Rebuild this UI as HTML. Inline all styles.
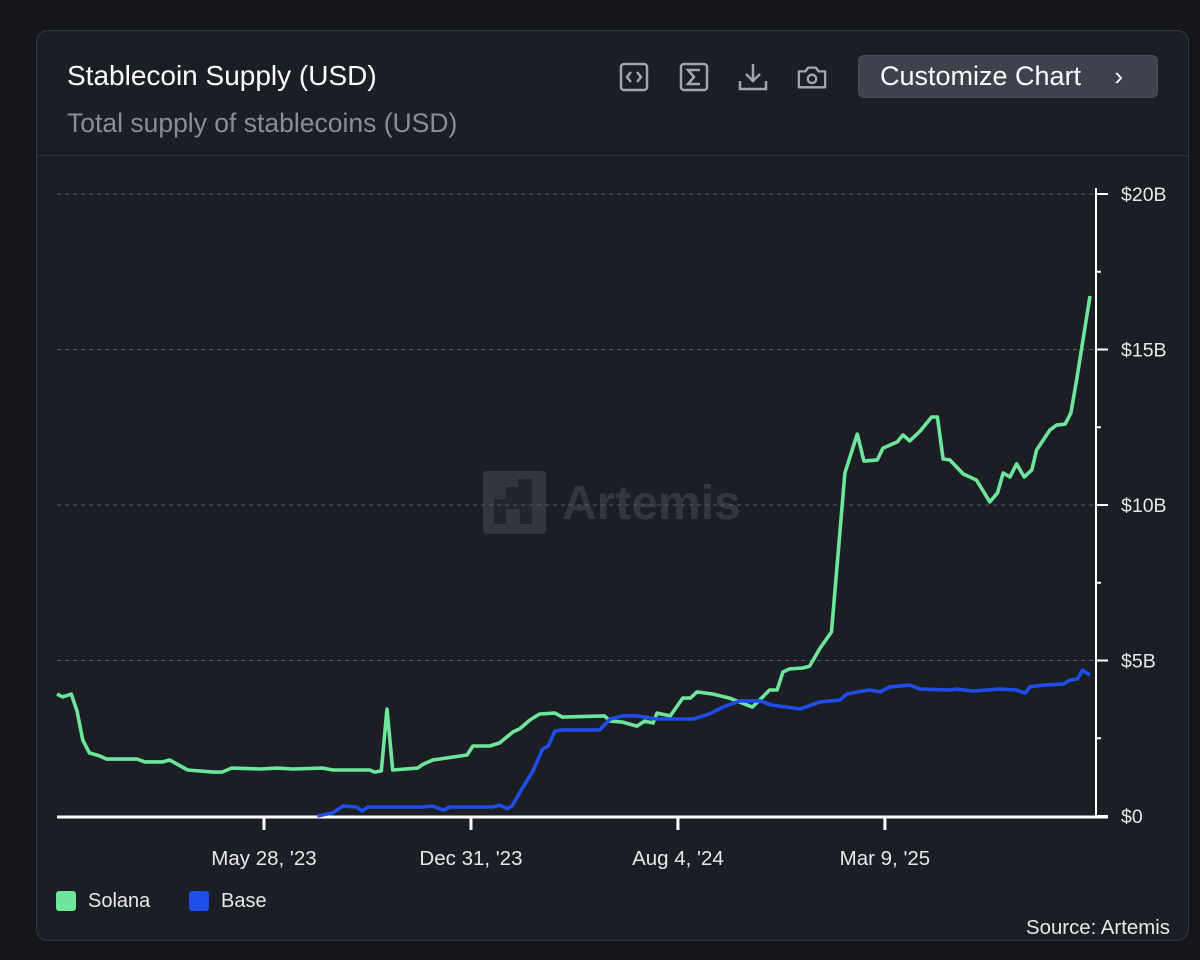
<!DOCTYPE html>
<html><head><meta charset="utf-8"><style>
body{margin:0;width:1200px;height:960px;background:#15161b;font-family:"Liberation Sans",sans-serif;overflow:hidden;position:relative}
.card{position:absolute;left:36px;top:30px;width:1153px;height:911px;background:#1c1e26;border:1px solid #34363f;border-radius:12px;box-sizing:border-box}
.t{position:absolute;color:#fff;white-space:nowrap}
.ic{position:absolute;top:62px;width:30px;height:30px}
</style></head><body>
<div class="card"></div>
<div class="t" style="left:67px;top:60px;font-size:28px">Stablecoin Supply (USD)</div>
<div class="t" style="left:67px;top:108px;font-size:26.5px;color:#8b8d96">Total supply of stablecoins (USD)</div>
<div style="position:absolute;left:37px;top:155px;width:1151px;height:1px;background:#30323b"></div>
<svg class="ic" style="left:619px" viewBox="0 0 30 30"><rect x="2" y="2" width="26" height="26" rx="3" fill="none" stroke="#a3a5ad" stroke-width="2.5"/><path d="M12 10l-4 5 4 5M18 10l4 5-4 5" fill="none" stroke="#a3a5ad" stroke-width="2.5"/></svg>
<svg class="ic" style="left:679px" viewBox="0 0 30 30"><rect x="2" y="2" width="26" height="26" rx="3" fill="none" stroke="#a3a5ad" stroke-width="2.5"/><path d="M21 8H9l6 7-6 7h12" fill="none" stroke="#a3a5ad" stroke-width="2.5"/></svg>
<svg class="ic" style="left:738px" viewBox="0 0 30 30"><path d="M15 2v17M8 12l7 7 7-7M2 19v8h26v-8" fill="none" stroke="#a3a5ad" stroke-width="2.5"/></svg>
<svg class="ic" style="left:797px" viewBox="0 0 32 30"><path d="M2 9h7l3-4h8l3 4h7v17H2z" fill="none" stroke="#a3a5ad" stroke-width="2.5" stroke-linejoin="round"/><circle cx="16" cy="17" r="4.5" fill="none" stroke="#a3a5ad" stroke-width="2.5"/></svg>
<div style="position:absolute;left:858px;top:55px;width:300px;height:43px;background:#3f414c;border:1px solid #4b4d58;border-radius:6px;box-sizing:border-box;color:#fff;font-size:27px;line-height:41px;padding-left:21px;white-space:nowrap">Customize Chart<span style="position:absolute;right:34px;font-size:26px">›</span></div>
<svg style="position:absolute;left:0;top:0" width="1200" height="960">
<g><rect x="483" y="471" width="63" height="63" rx="4" fill="#34363e"/><path d="M494 524v-25h12v-12h12v-8h14v45h-12v-15h-14v15z" fill="#23252c"/><text x="562" y="519" font-size="48" font-weight="bold" fill="#34363e">Artemis</text></g>
<g id="grid"></g><g id="axes"></g><g id="lines"></g>
</svg>
<div style="position:absolute;left:56px;top:891px;width:20px;height:20px;background:#6ee59a;border-radius:3px"></div>
<div class="t" style="left:88px;top:890px;font-size:20px;color:#e8e8ea">Solana</div>
<div style="position:absolute;left:189px;top:891px;width:20px;height:20px;background:#1f4de8;border-radius:3px"></div>
<div class="t" style="left:221px;top:890px;font-size:20px;color:#e8e8ea">Base</div>
<div class="t" style="left:1026px;top:917px;font-size:20.4px;color:#e8e8ea">Source: Artemis</div>
<script>
const xTickDays=[217,434,651,868];
const xTickLabels=["May 28, '23","Dec 31, '23","Aug 4, '24","Mar 9, '25"];
const yTickValues=[0,5,10,15,20];
const yTickLabels=["$0","$5B","$10B","$15B","$20B"];
const solanaDays=[0,6,15,21,27,34,45,52,84,92,111,118,137,164,173,183,213,231,247,279,289,328,333,340,346,352,378,384,394,430,436,454,464,478,485,496,506,522,530,574,580,593,608,616,625,629,643,656,664,671,688,705,729,740,747,755,761,768,782,789,800,812,826,839,846,860,866,881,887,894,905,917,923,929,936,950,964,978,986,992,999,1006,1014,1022,1027,1041,1048,1057,1063,1069,1083];
const solanaValues=[3.92,3.83,3.92,3.38,2.44,2.03,1.93,1.83,1.83,1.74,1.74,1.80,1.48,1.41,1.41,1.54,1.51,1.54,1.51,1.54,1.48,1.48,1.41,1.45,3.44,1.48,1.54,1.67,1.80,1.96,2.25,2.25,2.35,2.70,2.80,3.09,3.28,3.31,3.18,3.22,3.05,3.02,2.89,3.05,2.99,3.31,3.22,3.79,3.79,3.99,3.92,3.79,3.50,3.83,4.05,4.05,4.63,4.73,4.76,4.82,5.40,5.92,11.03,12.28,11.41,11.45,11.83,12.03,12.25,12.06,12.38,12.83,12.83,11.48,11.45,11.00,10.80,10.10,10.39,11.03,10.90,11.32,10.90,11.13,11.77,12.41,12.57,12.60,12.96,14.02,16.72];
const baseDays=[273,289,300,314,320,326,384,393,399,405,412,457,464,472,477,488,499,509,515,522,530,569,580,593,608,629,667,684,698,716,737,749,765,779,800,821,828,839,852,863,873,894,905,936,943,960,975,988,1006,1015,1020,1034,1055,1062,1070,1075,1083];
const baseValues=[0,0.10,0.32,0.29,0.16,0.29,0.29,0.32,0.26,0.19,0.29,0.29,0.35,0.23,0.32,0.90,1.45,2.15,2.25,2.73,2.77,2.77,3.12,3.22,3.22,3.12,3.12,3.28,3.50,3.70,3.70,3.57,3.50,3.44,3.67,3.73,3.92,3.99,4.05,3.99,4.15,4.21,4.08,4.05,4.08,4.02,4.05,4.08,4.05,3.95,4.15,4.21,4.24,4.37,4.41,4.69,4.53];
const NS="http://www.w3.org/2000/svg";
const X0=57,X1=1090,D1=1083,Y0=816,Y1=194,V1=20;
function xs(d){return X0+(X1-X0)*d/D1;}
function ys(v){return Y0-(Y0-Y1)*v/V1;}
function mk(p,tag,a){const e=document.createElementNS(NS,tag);for(const k in a)e.setAttribute(k,a[k]);p.appendChild(e);return e;}
const grid=document.getElementById('grid'),axes=document.getElementById('axes'),lines=document.getElementById('lines');
yTickValues.forEach((v,i)=>{
  if(v>0){const g=mk(grid,'line',{x1:57,x2:1095,y1:ys(v),y2:ys(v),stroke:'#5a5c66','stroke-dasharray':'4 4','stroke-width':1});
  
  }
  const t=mk(axes,'line',{x1:1095,x2:1108,y1:ys(v),y2:ys(v),stroke:'#fff','stroke-width':2});
  
  
  const l=mk(axes,'text',{x:1121,y:ys(v)+7,fill:'#e8e8ea','font-size':19.5});
  l.textContent=yTickLabels[i];
  
  
  if(i<yTickValues.length-1){const m=mk(axes,'line',{x1:1095,x2:1101,y1:ys(v+2.5),y2:ys(v+2.5),stroke:'#fff','stroke-width':2});
  
  }
});
const ya=mk(axes,'line',{x1:1096,x2:1096,y1:188,y2:817,stroke:'#fff','stroke-width':2});


const xa=mk(axes,'line',{x1:57,x2:1108,y1:817,y2:817,stroke:'#fff','stroke-width':3});


xTickDays.forEach((d,i)=>{
  const t=mk(axes,'line',{x1:xs(d),x2:xs(d),y1:817,y2:830,stroke:'#fff','stroke-width':3});
  
  
  const l=mk(axes,'text',{x:xs(d),y:865,fill:'#e8e8ea','font-size':20.5,'text-anchor':'middle'});
  l.textContent=xTickLabels[i];
  
  
});
function path(days,vals){return days.map((d,i)=>(i?'L':'M')+xs(d).toFixed(1)+' '+ys(vals[i]).toFixed(1)).join('');}
const sp=mk(lines,'path',{d:path(solanaDays,solanaValues),fill:'none',stroke:'#6ee59a','stroke-width':3.6,'stroke-linejoin':'round'});


const bp=mk(lines,'path',{d:path(baseDays,baseValues),fill:'none',stroke:'#1f4de8','stroke-width':3.6,'stroke-linejoin':'round'});


</script>
</body></html>
